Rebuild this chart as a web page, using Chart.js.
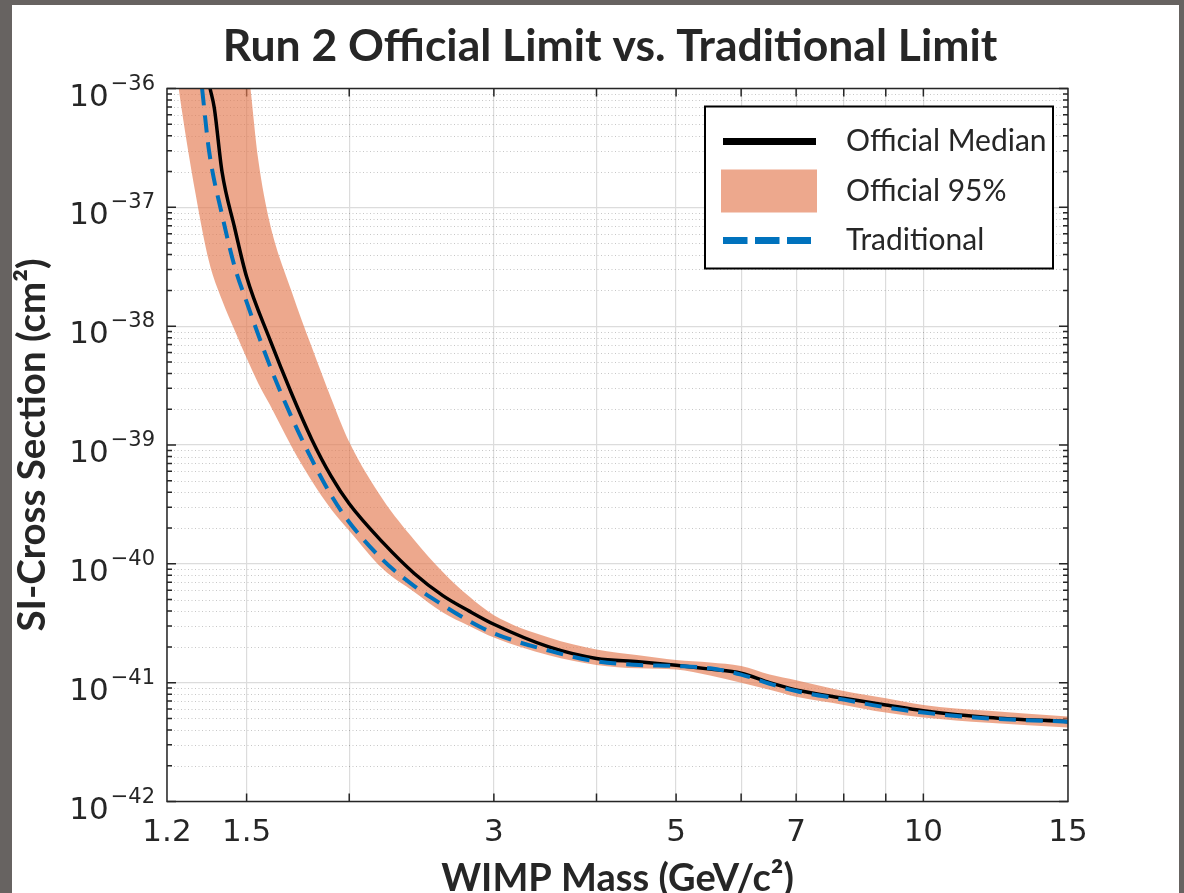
<!DOCTYPE html>
<html>
<head>
<meta charset="utf-8">
<script src="https://cdn.jsdelivr.net/npm/chart.js@4.4.1/dist/chart.umd.min.js"></script>
<style>
  html, body { margin: 0; padding: 0; background: #676361; }
</style>
</head>
<body>
<canvas id="myChart" width="1184" height="893"></canvas>
<script>
// values (WIMP mass in GeV/c^2, cross section in cm^2)
const titleText = 'Run 2 Official Limit vs. Traditional Limit'

const bandMass = [1.2, 1.24, 1.3, 1.35, 1.4, 1.45, 1.5, 1.55, 1.6, 1.7, 1.8, 1.9, 2, 2.2, 2.4, 2.6, 2.8, 3, 3.5, 4, 4.5, 5, 5.5, 6, 6.5, 7, 8, 9, 10, 12, 15]
const bandHigh = [1e-34, 5e-35, 2e-35, 1e-35, 6e-36, 3.5e-36, 1.8e-36, 2.5e-37, 7.5e-38, 2.0e-38, 6.7e-39, 2.5e-39, 1.06e-39, 3.45e-40, 1.59e-40, 8.55e-41, 5.3e-41, 3.7e-41, 2.4e-41, 1.9e-41, 1.7e-41, 1.55e-41, 1.48e-41, 1.38e-41, 1.17e-41, 1.05e-41, 8.5e-42, 7.4e-42, 6.5e-42, 5.8e-42, 5.2e-42]
const bandLow = [6e-36, 1.0e-36, 1.3e-37, 3.5e-38, 1.66e-38, 9.3e-39, 5.4e-39, 3.3e-39, 2.2e-39, 9.8e-40, 5.0e-40, 2.9e-40, 1.9e-40, 9.0e-41, 5.8e-41, 3.9e-41, 3.0e-41, 2.4e-41, 1.7e-41, 1.41e-41, 1.32e-41, 1.29e-41, 1.15e-41, 1.0e-41, 8.7e-42, 7.6e-42, 6.5e-42, 5.6e-42, 5.1e-42, 4.6e-42, 4.2e-42]

const medianMass = [1.354, 1.37, 1.4, 1.45, 1.5, 1.6, 1.7, 1.8, 1.9, 2, 2.2, 2.4, 2.6, 2.8, 3, 3.5, 4, 4.5, 5, 5.5, 6, 6.5, 7, 8, 9, 10, 12, 15]
const medianVal = [1.0e-36, 6.9e-37, 2.0e-37, 6.8e-38, 2.6e-38, 7.8e-39, 2.75e-39, 1.12e-39, 5.5e-40, 3.2e-40, 1.5e-40, 8.3e-41, 5.4e-41, 4.0e-41, 3.1e-41, 2.0e-41, 1.6e-41, 1.5e-41, 1.4e-41, 1.3e-41, 1.2e-41, 1.0e-41, 8.7e-42, 7.4e-42, 6.5e-42, 5.8e-42, 5.1e-42, 4.7e-42]

const tradMass = [1.324, 1.35, 1.4, 1.45, 1.5, 1.6, 1.7, 1.8, 1.9, 2, 2.2, 2.4, 2.6, 2.8, 3, 3.5, 4, 4.5, 5, 5.5, 6, 6.5, 7, 8, 9, 10, 12, 15]
const tradVal = [1.0e-36, 3.0e-37, 8.7e-38, 3.2e-38, 1.6e-38, 4.7e-39, 1.74e-39, 7.6e-40, 3.8e-40, 2.24e-40, 1.07e-40, 6.5e-41, 4.5e-41, 3.3e-41, 2.6e-41, 1.86e-41, 1.51e-41, 1.41e-41, 1.38e-41, 1.32e-41, 1.17e-41, 9.8e-42, 8.5e-42, 7.2e-42, 6.2e-42, 5.6e-42, 5.0e-42, 4.7e-42]

const xTicks = [1.2, 1.5, 2, 3, 4, 5, 6, 7, 8, 9, 10, 15]
const xTickLabels = ['1.2', '1.5', '', '3', '', '5', '', '7', '', '', '10', '15']
const yTicks = [1e-42, 1e-41, 1e-40, 1e-39, 1e-38, 1e-37, 1e-36]
const yTickExp = ['−42', '−41', '−40', '−39', '−38', '−37', '−36']

const textColor = '#262626'
const bandColor = 'rgba(228, 122, 80, 0.65)'
const blue = '#0072BD'

const toPoints = (xs, ys) => xs.map((m, i) => ({x: m, y: ys[i]}))

const framePlugin = {
    id: 'framePlugin',
    beforeDraw(chart) {
        const ctx = chart.ctx
        ctx.save()
        ctx.fillStyle = '#676361'
        ctx.fillRect(0, 0, chart.width, chart.height)
        ctx.fillStyle = '#ffffff'
        ctx.fillRect(12, 5, chart.width - 17, chart.height - 5)
        ctx.fillStyle = textColor
        ctx.font = 'bold 44.5px Lato'
        ctx.textAlign = 'center'
        ctx.textBaseline = 'middle'
        ctx.fillText(titleText, 610, 47)
        ctx.restore()
    },
    beforeDatasetsDraw(chart) {
        const {ctx, chartArea: a, scales: {x, y}} = chart
        ctx.save()
        // dotted minor grid
        ctx.strokeStyle = 'rgba(0,0,0,0.22)'
        ctx.lineWidth = 1
        ctx.setLineDash([1, 2.5])
        yTicks.forEach(d => {
            for (let k = 2; k <= 9; k++) {
                const v = d * k
                if (v >= y.max) continue
                const py = Math.round(y.getPixelForValue(v)) + 0.5
                ctx.beginPath()
                ctx.moveTo(a.left, py)
                ctx.lineTo(a.right, py)
                ctx.stroke()
            }
        })
        // inner ticks
        ctx.setLineDash([])
        ctx.strokeStyle = textColor
        ctx.lineWidth = 1.5
        xTicks.forEach(v => {
            if (v <= x.min || v >= x.max) return
            const px = x.getPixelForValue(v)
            ctx.beginPath()
            ctx.moveTo(px, a.bottom); ctx.lineTo(px, a.bottom - 8)
            ctx.moveTo(px, a.top); ctx.lineTo(px, a.top + 8)
            ctx.stroke()
        })
        yTicks.forEach(d => {
            for (let k = 1; k <= 9; k++) {
                const v = d * k
                if (v > y.max) continue
                const py = y.getPixelForValue(v)
                const len = k === 1 ? 9 : 5
                ctx.beginPath()
                ctx.moveTo(a.left, py); ctx.lineTo(a.left + len, py)
                ctx.moveTo(a.right, py); ctx.lineTo(a.right - len, py)
                ctx.stroke()
            }
        })
        // y tick labels: 10 with raised exponent
        ctx.fillStyle = textColor
        ctx.textAlign = 'right'
        ctx.textBaseline = 'alphabetic'
        yTicks.forEach((v, i) => {
            const py = y.getPixelForValue(v)
            ctx.font = '21px "DejaVu Sans"'
            const ew = ctx.measureText(yTickExp[i]).width
            ctx.fillText(yTickExp[i], a.left - 12, py + 1)
            ctx.font = '31px "DejaVu Sans"'
            ctx.fillText('10', a.left - 14 - ew, py + 17)
        })
        ctx.restore()
    },
    afterDatasetsDraw(chart) {
        const {ctx, chartArea: a} = chart
        ctx.save()
        ctx.strokeStyle = textColor
        ctx.lineWidth = 1.5
        ctx.strokeRect(a.left, a.top, a.right - a.left, a.bottom - a.top)

        // legend box
        const w = 348, h = 162
        const L = a.right - 15 - w, T = a.top + 18
        ctx.fillStyle = '#ffffff'
        ctx.fillRect(L, T, w, h)
        ctx.strokeStyle = '#000000'
        ctx.lineWidth = 2
        ctx.strokeRect(L, T, w, h)

        const ds = chart.data.datasets
        ctx.lineCap = 'butt'
        ctx.strokeStyle = '#000000'
        ctx.lineWidth = 7
        ctx.beginPath(); ctx.moveTo(L + 18, T + 35); ctx.lineTo(L + 111, T + 35); ctx.stroke()

        ctx.fillStyle = bandColor
        ctx.fillRect(L + 16, T + 63, 96, 43)

        ctx.strokeStyle = blue
        ctx.setLineDash([24.5, 7.5])
        ctx.beginPath(); ctx.moveTo(L + 18, T + 134); ctx.lineTo(L + 106, T + 134); ctx.stroke()
        ctx.setLineDash([])

        ctx.fillStyle = textColor
        ctx.font = '30px Lato'
        ctx.textAlign = 'left'
        ctx.textBaseline = 'middle'
        ctx.fillText(ds[1].label, L + 141, T + 35)
        ctx.fillText(ds[2].label, L + 141, T + 85)
        ctx.fillText(ds[0].label, L + 141, T + 134)
        ctx.restore()
    }
}

const ctx = document.getElementById('myChart')
const myChart = new Chart(ctx, {
    type: 'scatter',
    data: {
        datasets: [
            {
                label: 'Traditional',
                data: toPoints(tradMass, tradVal),
                showLine: true,
                borderColor: blue,
                borderWidth: 4,
                borderDash: [17, 10],
                pointRadius: 0,
                cubicInterpolationMode: 'monotone',
                fill: false
            },
            {
                label: 'Official Median',
                data: toPoints(medianMass, medianVal),
                showLine: true,
                borderColor: '#000000',
                borderWidth: 3.5,
                pointRadius: 0,
                cubicInterpolationMode: 'monotone',
                fill: false
            },
            {
                label: 'Official 95%',
                data: toPoints(bandMass, bandLow),
                showLine: true,
                borderWidth: 0,
                borderColor: 'rgba(0,0,0,0)',
                backgroundColor: bandColor,
                pointRadius: 0,
                cubicInterpolationMode: 'monotone',
                fill: '+1'
            },
            {
                label: 'band upper',
                data: toPoints(bandMass, bandHigh),
                showLine: true,
                borderWidth: 0,
                borderColor: 'rgba(0,0,0,0)',
                pointRadius: 0,
                cubicInterpolationMode: 'monotone',
                fill: false
            }
        ]
    },
    options: {
        responsive: false,
        animation: false,
        events: [],
        layout: {padding: {left: 12, top: 88.5, right: 116, bottom: 0}},
        plugins: {
            legend: {display: false},
            title: {display: false},
            tooltip: {enabled: false},
            filler: {propagate: false}
        },
        scales: {
            x: {
                type: 'logarithmic',
                min: 1.2,
                max: 15,
                afterBuildTicks: s => { s.ticks = xTicks.map(v => ({value: v})) },
                afterFit: s => { s.height = 91.5 },
                ticks: {
                    autoSkip: false,
                    maxRotation: 0,
                    padding: 13,
                    color: textColor,
                    font: {family: 'DejaVu Sans', size: 31},
                    callback: (v, i) => xTickLabels[i]
                },
                grid: {color: '#dcdcdc', lineWidth: 1.2, drawTicks: false},
                border: {display: false},
                title: {
                    display: true,
                    text: 'WIMP Mass (GeV/c²)',
                    color: textColor,
                    font: {family: 'Lato', weight: 'bold', size: 38, lineHeight: 0.75},
                    padding: {top: 0, bottom: 0}
                }
            },
            y: {
                type: 'logarithmic',
                min: 1e-42,
                max: 1e-36,
                afterBuildTicks: s => { s.ticks = yTicks.map(v => ({value: v})) },
                afterFit: s => { s.width = 155 },
                ticks: {display: false},
                grid: {color: '#dcdcdc', lineWidth: 1.2, drawTicks: false},
                border: {display: false},
                title: {
                    display: true,
                    text: 'SI-Cross Section (cm²)',
                    color: textColor,
                    font: {family: 'Lato', weight: 'bold', size: 38.5, lineHeight: 0.75},
                    padding: {top: 6, bottom: 0}
                }
            }
        }
    },
    plugins: [framePlugin]
})
</script>
</body>
</html>
